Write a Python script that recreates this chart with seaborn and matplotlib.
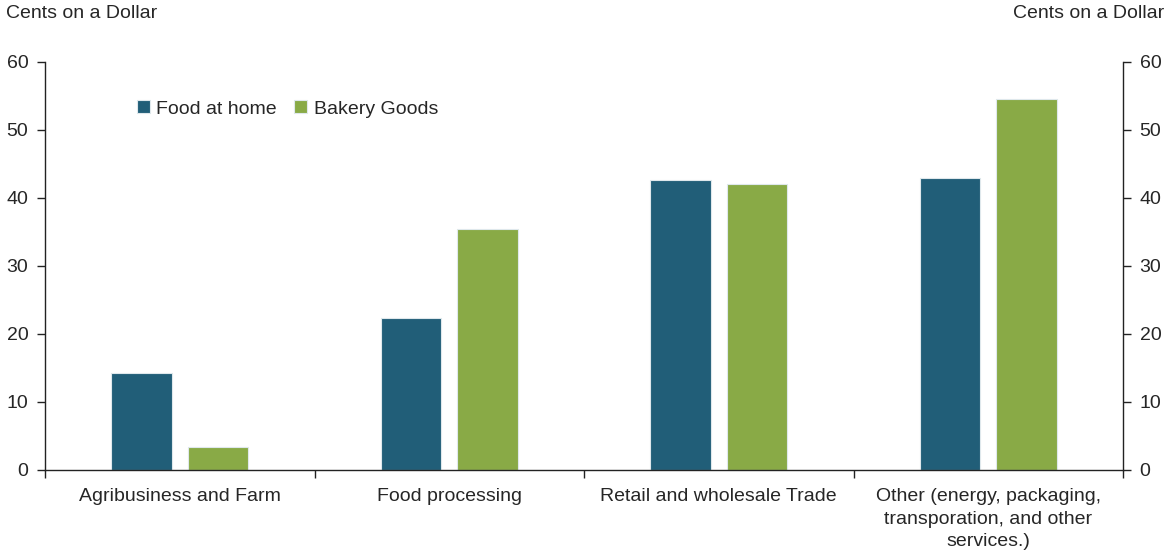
import numpy as np
import pandas as pd
import matplotlib
matplotlib.use("Agg")
import matplotlib.pyplot as plt
from matplotlib.ticker import FixedLocator
import seaborn as sns

categories = [
    "Agribusiness and Farm",
    "Food processing",
    "Retail and wholesale Trade",
    "Other (energy, packaging,\ntransporation, and other\nservices.)",
]
food_at_home = [14.3, 22.4, 42.7, 43.0]
bakery_goods = [3.4, 35.5, 42.0, 54.6]
series_names = ["Food at home", "Bakery Goods"]
series_colors = ["#215E78", "#89AA46"]
y_ticks = [0, 10, 20, 30, 40, 50, 60]
axis_label = "Cents on a Dollar"

df = pd.DataFrame({
    "category": categories * 2,
    "series": [series_names[0]] * len(categories) + [series_names[1]] * len(categories),
    "value": food_at_home + bakery_goods,
})

sns.set_style("white")
plt.rcParams["font.family"] = ["Liberation Sans", "DejaVu Sans"]

fig = plt.figure(figsize=(11.69, 5.51), dpi=100)
ax = fig.add_axes([45 / 1169, 1 - 470 / 551, (1123 - 45) / 1169, (470 - 62) / 551])

sns.barplot(
    data=df, x="category", y="value", hue="series",
    palette=series_colors, saturation=1, width=0.57, gap=0.21,
    edgecolor="#dfe8ec", linewidth=0.8, ax=ax, legend=True,
)

ax.set_xlim(-0.5, len(categories) - 0.5)
ax.set_ylim(0, 60)
ax.set_yticks(y_ticks)
ax.set_xlabel("")
ax.set_ylabel("")

ax.spines["top"].set_visible(False)
for side in ["left", "right", "bottom"]:
    ax.spines[side].set_visible(True)
    ax.spines[side].set_color("#222222")
    ax.spines[side].set_linewidth(1.0)

ax.tick_params(axis="y", which="major", direction="out", length=6, width=1,
               color="#222222", left=True, right=True,
               labelleft=True, labelright=True, labelsize=14, pad=6)
ax.tick_params(axis="x", which="major", length=0, labelsize=14, pad=13)
ax.xaxis.set_minor_locator(FixedLocator(np.arange(-0.5, len(categories), 1.0)))
ax.tick_params(axis="x", which="minor", direction="out", length=6, width=1,
               color="#222222", bottom=True)
for lbl in ax.get_xticklabels():
    lbl.set_linespacing(1.42)
    lbl.set_verticalalignment("top")

leg = ax.legend(
    loc="upper left", bbox_to_anchor=(0.078, 0.925), ncol=2, frameon=False,
    fontsize=14, handlelength=0.65, handleheight=0.65, handletextpad=0.35,
    columnspacing=0.9, borderaxespad=0,
)

fig.text(6 / 1169, 1 - 14 / 551, axis_label, ha="left", va="center", fontsize=14)
fig.text(1164 / 1169, 1 - 14 / 551, axis_label, ha="right", va="center", fontsize=14)

fig.savefig("out.png", dpi=100)
